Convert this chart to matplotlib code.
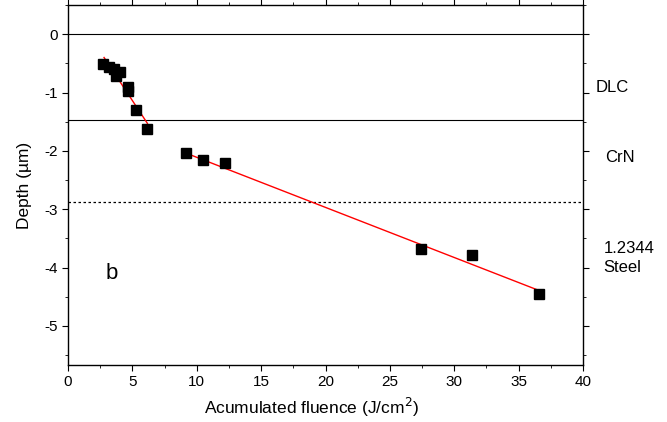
import matplotlib
matplotlib.use("Agg")
import matplotlib.pyplot as plt
from matplotlib.ticker import MultipleLocator

plt.rcParams['font.family'] = ['Liberation Sans', 'DejaVu Sans']
plt.rcParams['axes.unicode_minus'] = False

# measured points
fluence = [2.75, 3.2, 3.55, 3.7, 4.0, 4.65, 4.65, 5.3, 6.17,
           9.18, 10.5, 12.2, 27.45, 31.36, 36.55]
depth = [-0.51, -0.57, -0.60, -0.71, -0.64, -0.90, -0.97, -1.30, -1.63,
         -2.04, -2.16, -2.21, -3.68, -3.78, -4.45]

# linear fits (end points)
fit1_x = [2.8, 6.17]
fit1_y = [-0.40, -1.53]
fit2_x = [9.18, 36.55]
fit2_y = [-2.04, -4.39]

# layer boundaries
surface = 0.0
dlc_crn = -1.47
crn_steel = -2.88

layer_names = ["DLC", "CrN", "1.2344\nSteel"]
layer_y = [-0.92, -2.12, -3.84]
layer_dx = [1.025, 1.043, 1.04]

fig = plt.figure(figsize=(6.67, 4.22), dpi=100)
ax = fig.add_axes([68/667, 1 - 365/422, (583-68)/667, (365-5)/422])

ax.axhline(surface, color='black', lw=0.8)
ax.axhline(dlc_crn, color='black', lw=0.8)
ax.axhline(crn_steel, color='black', lw=0.9, ls=(0, (2, 2)))

ax.plot(fit1_x, fit1_y, color='red', lw=1)
ax.plot(fit2_x, fit2_y, color='red', lw=1)
ax.plot(fluence, depth, 's', color='black', ms=7, zorder=3)

ax.set_xlim(0, 40)
ax.set_ylim(-5.67, 0.5)
ax.xaxis.set_major_locator(MultipleLocator(5))
ax.xaxis.set_minor_locator(MultipleLocator(2.5))
ax.yaxis.set_major_locator(MultipleLocator(1))
ax.yaxis.set_minor_locator(MultipleLocator(0.5))
ax.tick_params(which='both', direction='out', top=True, right=True,
               labeltop=False, labelright=False, labelsize=11)
ax.tick_params(which='major', length=4)
ax.tick_params(which='minor', length=2.5)
for s in ax.spines.values():
    s.set_linewidth(1)

ax.set_xlabel("Acumulated fluence (J/cm$^2$)", fontsize=12.5, labelpad=4)
ax.xaxis.set_label_coords(0.473, -0.085)
ax.set_ylabel("Depth (µm)", fontsize=12.5, labelpad=9)

for name, yy, dx in zip(layer_names, layer_y, layer_dx):
    ax.text(dx, yy, name, transform=ax.get_yaxis_transform(),
            ha='left', va='center', fontsize=12, linespacing=1.35)

ax.text(3.4, -4.1, "b", fontsize=16, ha='center', va='center')

fig.savefig("out.png", dpi=100)
